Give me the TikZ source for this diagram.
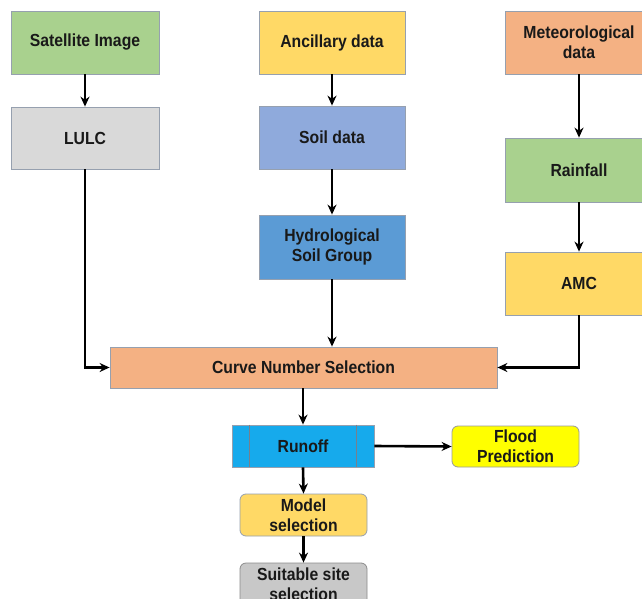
\documentclass[tikz,border=0pt]{standalone}
\usepackage{fontspec}
\setmainfont{Liberation Sans}
\newfontfamily\boxfont[FakeStretch=0.9]{Liberation Sans}
\usetikzlibrary{arrows.meta}
\definecolor{cgreen}{RGB}{169,209,142}
\definecolor{cgray}{RGB}{217,217,217}
\definecolor{cgray2}{RGB}{200,200,200}
\definecolor{cyellow}{RGB}{255,217,102}
\definecolor{csoil}{RGB}{143,170,220}
\definecolor{chsg}{RGB}{91,155,213}
\definecolor{csalmon}{RGB}{244,177,131}
\definecolor{crunoff}{RGB}{22,170,236}
\definecolor{cflood}{RGB}{255,255,0}
\definecolor{cborder}{RGB}{150,160,175}
\tikzset{
  box/.style={draw=cborder, line width=0.8pt, align=center, inner sep=2pt,
    font=\boxfont\bfseries\fontsize{17.5}{20}\selectfont, text=black!90},
  rbox/.style={box, rounded corners=6pt},
  arr/.style={-{Stealth[length=10pt,width=9pt]}, line width=2.6pt, black}
}
\begin{document}
\begin{tikzpicture}[x=1pt,y=-1pt]
\clip (0,0) rectangle (642,599);
\fill[white] (0,0) rectangle (642,599);

\node[box, fill=cgreen, minimum width=148pt, minimum height=63pt] (sat) at (85,42.5) {Satellite Image};
\node[box, fill=cgray, minimum width=148pt, minimum height=62pt] (lulc) at (85,138) {LULC};
\node[box, fill=cyellow, minimum width=146pt, minimum height=63pt] (anc) at (332,42.5) {Ancillary data};
\node[box, fill=csoil, minimum width=146pt, minimum height=63pt] (soil) at (332,137.5) {Soil data};
\node[box, fill=chsg, minimum width=146pt, minimum height=64pt] (hsg) at (332,247) {Hydrological\\Soil Group};
\node[box, fill=csalmon, minimum width=148pt, minimum height=63pt] (met) at (579,42.5) {Meteorological\\data};
\node[box, fill=cgreen, minimum width=148pt, minimum height=64pt] (rain) at (579,170) {Rainfall};
\node[box, fill=cyellow, minimum width=148pt, minimum height=63pt] (amc) at (579,283.5) {AMC};
\node[box, fill=csalmon, minimum width=387pt, minimum height=41pt] (curve) at (303.5,367.5) {Curve Number Selection};
\node[box, fill=crunoff, minimum width=142pt, minimum height=42pt] (runoff) at (303,446) {Runoff};
\draw[cborder!80!black, line width=0.6pt] ([xshift=18pt]runoff.north west) -- ([xshift=18pt]runoff.south west);
\draw[cborder!80!black, line width=0.6pt] ([xshift=-18pt]runoff.north east) -- ([xshift=-18pt]runoff.south east);
\node[rbox, fill=cflood, draw=black!40, minimum width=127pt, minimum height=41pt] (flood) at (515.5,446.5) {Flood\\Prediction};
\node[rbox, fill=cyellow, minimum width=127pt, minimum height=42pt] (model) at (303.5,515) {Model\\selection};
\node[rbox, fill=cgray2, draw=black!45, minimum width=127pt, minimum height=42pt] (suit) at (303.5,584) {Suitable site\\selection};

\draw[arr] (sat) -- (lulc);
\draw[arr] (anc) -- (soil);
\draw[arr] (soil) -- (hsg);
\draw[arr] (met) -- (rain);
\draw[arr] (rain) -- (amc);
\draw[arr] (lulc.south) |- (curve.west);
\draw[arr] (amc.south) |- (curve.east);
\draw[arr] (hsg.south) -- (hsg.south |- curve.north);
\draw[arr] (runoff.north |- curve.south) -- (runoff.north);
\draw[arr] (runoff.east) -- (flood.west);
\draw[arr] (runoff.south) -- (model.north);
\draw[arr] (model.south) -- (suit.north);
\end{tikzpicture}
\end{document}
